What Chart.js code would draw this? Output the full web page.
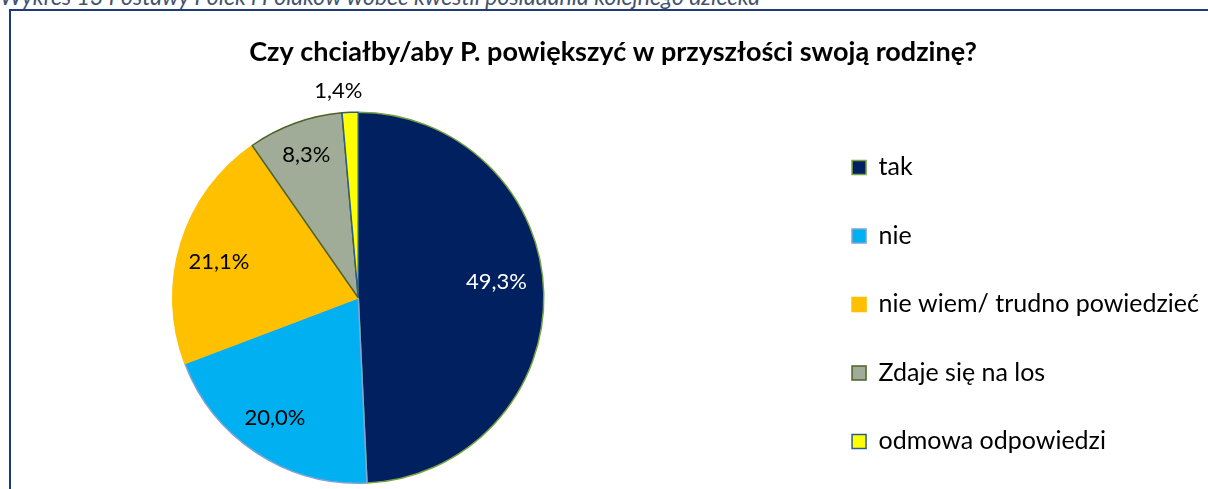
<!DOCTYPE html>
<html>
<head>
<meta charset="utf-8">
<script src="https://cdn.jsdelivr.net/npm/chart.js@4.4.1/dist/chart.umd.min.js"></script>
<style>
  html, body { margin: 0; padding: 0; background: #fff; overflow: hidden; }
  #wrap { position: relative; width: 1208px; height: 489px; }
  #caption {
    position: absolute; left: 0; top: -15px; white-space: nowrap;
    font: italic 23px Lato, sans-serif; line-height: 23px; color: #44546A;
  }
  #frame {
    position: absolute; left: 9px; top: 9px; width: 1210px; height: 500px;
    border-top: 2px solid #1F3A78; border-left: 2px solid #1F3A78;
  }
  #chart { position: absolute; left: 0; top: 0; }
</style>
</head>
<body>
<div id="wrap">
  <div id="caption">Wykres 13 Postawy Polek i Polaków wobec kwestii posiadania kolejnego dziecka</div>
  <div id="frame"></div>
  <canvas id="chart" width="1208" height="489"></canvas>
</div>
<script>
const titleText = 'Czy chciałby/aby P. powiększyć w przyszłości swoją rodzinę?';
const categories = ['tak', 'nie', 'nie wiem/ trudno powiedzieć', 'Zdaje się na los', 'odmowa odpowiedzi'];
const shares = [49.3, 20.0, 21.1, 8.3, 1.4];

const fills = ['#002060', '#00B0F0', '#FFC000', '#A0AC98', '#FFFF00'];
const edges = ['#7AA244', '#7FA3D3', '#FFC000', '#4F6228', '#2E5C8A'];
const labelColors = ['#FFFFFF', '#000000', '#000000', '#000000', '#000000'];
// where each percentage sits: fraction of the radius, and a small turn in degrees
const labelRadius = [0.75, 0.79, 0.775, 0.82, 1.12];
const labelTurn = [-5.3, 1.4, -2.8, 0, -3];

// empty box on the right that pushes the legend away from the pie,
// and a legend that keeps all its items in one column
const legendGap = {
  id: 'legendGap',
  beforeInit(chart, args, opts) {
    const legend = chart.legend;
    const fit = legend.fit;
    legend.fit = function () {
      this.maxHeight = chart.height;
      fit.call(this);
      if (this.columnSizes && this.columnSizes.length) {
        this.width = this.options.labels.padding + this.columnSizes[0].width + 7;
      }
    };
    Chart.layouts.addBox(chart, {
      position: 'right', weight: 500, fullSize: false, options: {},
      left: 0, top: 0, right: 0, bottom: 0, width: 0, height: 0,
      isHorizontal() { return false; },
      getPadding() { return {top: 0, left: 0, bottom: 0, right: 0}; },
      update(maxWidth, maxHeight) { this.width = opts.width; this.height = maxHeight; },
      draw() {}
    });
  },
  afterLayout(chart) {
    // let the last legend row run below the pie without starting a new column
    chart.legend.bottom = chart.height + 100;
  }
};

const sliceLabels = {
  id: 'sliceLabels',
  afterDatasetsDraw(chart) {
    const ctx = chart.ctx;
    const meta = chart.getDatasetMeta(0);
    ctx.save();
    ctx.font = '22px Lato, sans-serif';
    ctx.textAlign = 'center';
    ctx.textBaseline = 'middle';
    meta.data.forEach((arc, i) => {
      const p = arc.getProps(['x', 'y', 'startAngle', 'endAngle', 'outerRadius'], true);
      const mid = (p.startAngle + p.endAngle) / 2 + labelTurn[i] * Math.PI / 180;
      const r = p.outerRadius * labelRadius[i];
      ctx.fillStyle = labelColors[i];
      ctx.fillText(shares[i].toFixed(1).replace('.', ',') + '%', p.x + Math.cos(mid) * r, p.y + Math.sin(mid) * r);
    });
    ctx.restore();
  }
};

new Chart(document.getElementById('chart'), {
  type: 'pie',
  data: {
    labels: categories,
    datasets: [{
      data: shares,
      backgroundColor: fills,
      borderColor: edges,
      borderWidth: 1.5
    }]
  },
  options: {
    responsive: false,
    animation: false,
    layout: { padding: { left: 20, right: 2, top: 0, bottom: 5 } },
    plugins: {
      title: {
        display: true,
        text: titleText,
        color: '#000',
        font: { family: 'Lato', size: 27, weight: 'bold' },
        padding: { top: 36, bottom: 43 }
      },
      legend: {
        position: 'right',
        align: 'start',
        fullSize: false,
        labels: {
          color: '#000',
          font: { family: 'Lato', size: 25, lineHeight: 1 },
          boxWidth: 14,
          boxHeight: 14,
          padding: 43.5
        }
      },
      tooltip: { enabled: false },
      legendGap: { width: 112 }
    }
  },
  plugins: [legendGap, sliceLabels]
});
</script>
</body>
</html>
